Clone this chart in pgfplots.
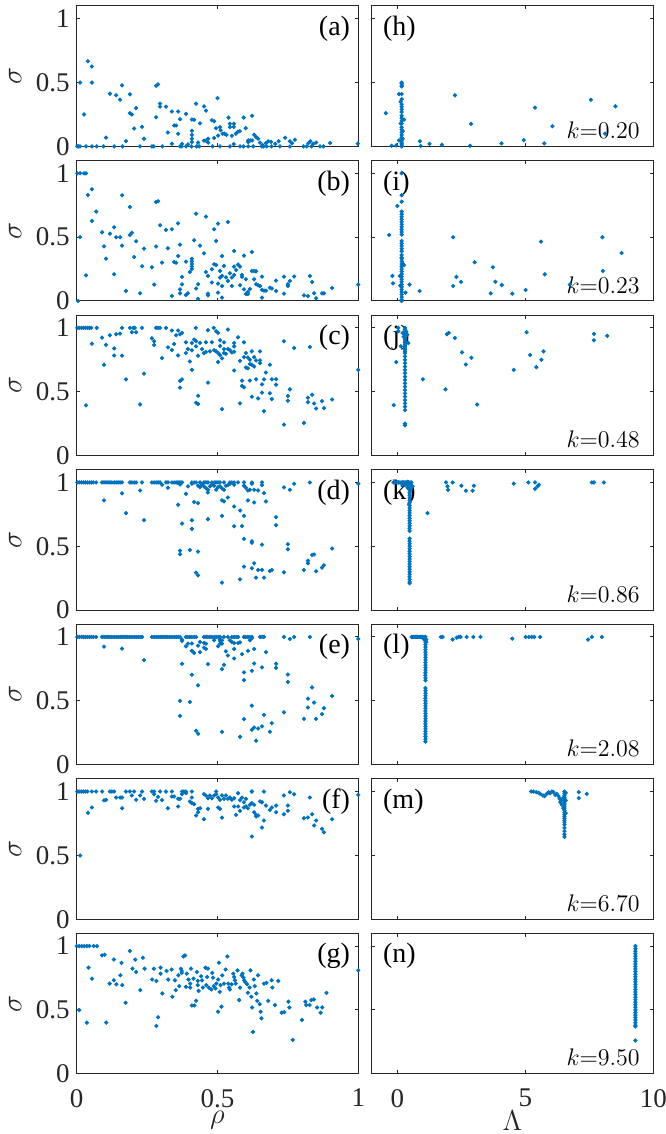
\documentclass[border=0pt]{standalone}
\usepackage[no-math]{fontspec}
\setmainfont{Liberation Serif}
\usepackage{pgfplots}
\pgfplotsset{compat=1.18}

\definecolor{mblue}{RGB}{0,114,189}
\definecolor{axgray}{RGB}{38,38,38}

\tikzset{plab/.style={font=\fontsize{14}{16}\selectfont, text=black}}
\pgfplotsset{
  dots/.style={only marks, mark=*, mark size=0.85pt, color=mblue,
    mark options={solid, fill=mblue, draw=none}},
  base/.style={
    scale only axis, width=140.8pt, height=70.2pt,
    ymin=0, ymax=1.1, ytick={0,0.5,1},
    tick align=inside, major tick length=1.7pt,
    axis line style={axgray, line width=0.5pt},
    every tick/.append style={axgray, line width=0.5pt},
    tick label style={font=\fontsize{13.5}{15}\selectfont, text=axgray},
    /pgf/number format/assume math mode=true,
  },
  lcol/.style={base, xmin=0, xmax=1, xtick={0,0.5,1}, xticklabels={},
    ylabel={$\sigma$},
    ylabel style={at={([xshift=-30.8pt]axis description cs:0,0.5)}, anchor=center,
      font=\fontsize{14}{16}\selectfont, text=axgray}},
  rcol/.style={base, xmin=-1, xmax=10, xtick={0,5,10}, xticklabels={}, yticklabels={}},
  bot/.style={xticklabel style={inner sep=0pt, yshift=-7.5pt},
    xlabel style={at={(axis description cs:0.5,0)}, anchor=north, inner sep=0pt,
      yshift=-18.5pt, font=\fontsize{14}{16}\selectfont, text=axgray}},
}
\newcommand{\leftlab}[1]{\node[plab, anchor=east] at ([xshift=-0.6pt]rel axis cs:1,0.837) {(#1)};}
\newcommand{\rightlab}[1]{\node[plab, anchor=west] at ([xshift=2.2pt]rel axis cs:0,0.837) {(#1)};}
\newcommand{\klab}[1]{\node[font=\fontsize{12.5}{14}\selectfont, anchor=base east, inner sep=0pt] at ([xshift=-6.6pt, yshift=3.9pt]rel axis cs:1,0) {$k{=}#1$};}

\begin{document}
\begin{tikzpicture}
\path[use as bounding box] (0,0) rectangle (332.5pt,-567pt);

% ---------- row 1 ----------
\begin{axis}[lcol, at={(38.35pt,-3pt)}, anchor=north west]
\addplot[dots] coordinates {
(0.002,0)(0.007,0)(0.012,0)(0.033,0)(0.054,0)(0.071,0)(0.095,0)(0.133,0)(0.163,0)(0.225,0)
(0.267,0)(0.274,0)(0.304,0)(0.367,0)(0.373,0)(0.388,0)(0.408,0)(0.426,0)(0.435,0)(0.482,0)
(0.509,0)(0.544,0)(0.580,0)(0.592,0)(0.609,0)(0.627,0)(0.657,0)(0.663,0)(0.675,0)(0.692,0)
(0.722,0)(0.757,0)(0.805,0)(0.817,0)(0.834,0)(0.864,0)(0.876,0)
(0.012,0.50)(0.026,0.25)(0.040,0.667)(0.054,0.626)(0.054,0.50)(0.104,0.068)(0.118,0.413)
(0.140,0.400)(0.154,0.366)(0.161,0.478)(0.175,0.042)(0.189,0.408)(0.189,0.260)(0.196,0.250)
(0.204,0.140)(0.211,0.300)(0.232,0.153)(0.239,0.060)(0.282,0.229)(0.282,0.475)(0.289,0.486)
(0.296,0.335)(0.296,0.312)(0.317,0.312)(0.324,0.109)(0.338,0.273)(0.338,0.020)(0.346,0.164)
(0.353,0.164)(0.360,0.273)(0.360,0.099)(0.367,0.213)(0.374,0.020)(0.388,0.255)(0.395,0.016)
(0.409,0.210)(0.417,0.208)(0.409,0.122)(0.409,0.090)(0.409,0.060)(0.409,0.034)(0.424,0.335)
(0.431,0.030)(0.438,0.180)(0.452,0.314)(0.459,0.280)(0.452,0.045)(0.459,0.045)(0.467,0.060)
(0.467,0.030)(0.480,0.205)(0.488,0.197)(0.495,0.143)(0.500,0.379)(0.488,0.065)(0.502,0.085)
(0.509,0.151)(0.511,0.127)(0.518,0.099)(0.525,0.099)(0.532,0.091)(0.539,0.226)(0.544,0.177)
(0.544,0.151)(0.551,0.083)(0.558,0.177)(0.558,0.153)(0.558,0.018)(0.565,0.099)(0.572,0.114)
(0.579,0.120)(0.593,0.226)(0.600,0.143)(0.609,0.047)(0.609,0.034)(0.616,0.047)(0.623,0.240)
(0.623,0.047)(0.630,0.091)(0.637,0.073)(0.644,0.060)(0.651,0.030)(0.660,0.010)(0.672,0.025)
(0.680,0.040)(0.690,0.035)(0.705,0.020)(0.717,0.040)(0.740,0.068)(0.757,0.040)(0.765,0.025)
(0.775,0.052)(0.823,0.025)(0.830,0.040)(0.840,0.020)(0.850,0.030)(0.900,0.026)(0.998,0.021)
};
\leftlab{a}
\end{axis}

\begin{axis}[rcol, at={(185.85pt,-3pt)}, anchor=north west]
\addplot[dots] coordinates {
(0.17,0.50)(0.17,0.49)(0.17,0.48)(0.17,0.47)(0.17,0.41)(0.17,0.37)(0.17,0.33)(0.17,0.31)
(0.17,0.29)(0.17,0.27)(0.17,0.24)(0.17,0.22)(0.17,0.20)(0.17,0.18)(0.17,0.15)(0.17,0.13)
(0.17,0.11)(0.17,0.09)(0.17,0.07)(0.17,0.05)(0.17,0.035)(0.17,0.02)(0.17,0.01)(0.17,0.0)
(0.13,0.35)(0.13,0.18)(0.21,0.12)(0.21,0.06)(0.26,0.21)(0.065,0.41)(0.07,0.047)(-0.04,0.008)
(-0.22,0.005)(-0.45,0.26)(0.88,0.04)(0.91,0.003)(1.26,0.02)(1.74,0.013)(2.25,0.40)(2.84,0.005)
(2.88,0.177)(4.07,0.023)(4.94,0.049)(5.38,0.304)(5.74,0.023)(6.06,0.158)(7.56,0.366)(8.11,0.10)
(8.52,0.314)
};
\rightlab{h}
\klab{0.20}
\end{axis}

% ---------- row 2 ----------
\begin{axis}[lcol, at={(38.35pt,-80.275pt)}, anchor=north west]
\addplot[dots] coordinates {
(0.002,1)(0.012,1)(0.026,1)(0.033,1)(0.012,0.50)(0.005,0.0)(0.033,0.20)(0.040,0.83)(0.054,0.875)
(0.054,0.627)(0.069,0.70)(0.090,0.538)(0.097,0.428)(0.104,0.332)(0.118,0.527)(0.133,0.577)
(0.133,0.209)(0.140,0.499)(0.154,0.499)(0.161,0.828)(0.161,0.433)(0.175,0.078)(0.189,0.736)
(0.189,0.517)(0.196,0.535)(0.204,0.345)(0.211,0.467)(0.225,0.060)(0.232,0.272)(0.239,0.410)
(0.267,0.264)(0.275,0.128)(0.282,0.775)(0.289,0.781)(0.282,0.426)(0.296,0.593)(0.303,0.300)
(0.317,0.556)(0.324,0.413)(0.338,0.561)(0.338,0.039)(0.346,0.305)(0.353,0.300)(0.360,0.608)
(0.360,0.352)(0.367,0.441)(0.367,0.060)(0.367,0.091)(0.374,0.188)(0.374,0.130)(0.388,0.308)
(0.388,0.047)(0.395,0.060)(0.402,0.227)(0.409,0.33)(0.409,0.31)(0.409,0.29)(0.409,0.27)
(0.409,0.25)(0.417,0.475)(0.424,0.684)(0.424,0.097)(0.431,0.131)(0.431,0.016)(0.438,0.433)
(0.452,0.373)(0.459,0.661)(0.459,0.227)(0.466,0.196)(0.466,0.057)(0.466,0.044)(0.480,0.144)
(0.480,0.248)(0.488,0.561)(0.488,0.287)(0.495,0.470)(0.495,0.282)(0.502,0.606)(0.502,0.136)
(0.502,0.065)(0.509,0.183)(0.509,0.235)(0.516,0.352)(0.516,0.196)(0.516,0.117)(0.516,0.026)
(0.523,0.274)(0.530,0.185)(0.537,0.157)(0.537,0.619)(0.544,0.217)(0.551,0.117)(0.551,0.183)
(0.559,0.392)(0.559,0.269)(0.559,0.204)(0.566,0.243)(0.573,0.285)(0.580,0.269)(0.580,0.123)
(0.587,0.204)(0.587,0.188)(0.594,0.355)(0.594,0.091)(0.601,0.170)(0.601,0.055)(0.608,0.070)
(0.608,0.055)(0.615,0.094)(0.622,0.384)(0.622,0.235)(0.630,0.235)(0.630,0.170)(0.637,0.232)
(0.637,0.131)(0.644,0.123)(0.651,0.117)(0.658,0.191)(0.658,0.086)(0.658,0.026)(0.665,0.081)
(0.672,0.081)(0.686,0.104)(0.693,0.097)(0.708,0.159)(0.708,0.078)(0.736,0.191)(0.736,0.057)
(0.750,0.117)(0.750,0.130)(0.757,0.157)(0.772,0.191)(0.807,0.044)(0.821,0.039)(0.828,0.196)
(0.836,0.149)(0.843,0.060)(0.850,0.021)(0.871,0.060)(0.878,0.060)(0.907,0.102)(1.000,0.128)
};
\leftlab{b}
\end{axis}

\begin{axis}[rcol, at={(185.85pt,-80.275pt)}, anchor=north west]
\addplot[dots] coordinates {
(0.17,1.0)(0.17,0.828)(0.17,0.778)(0.17,0.70)(0.17,0.68)(0.17,0.66)(0.17,0.64)(0.17,0.62)
(0.17,0.60)(0.17,0.58)(0.17,0.56)(0.17,0.54)(0.17,0.52)(0.17,0.47)(0.17,0.45)(0.17,0.43)
(0.17,0.41)(0.17,0.39)(0.17,0.36)(0.17,0.34)(0.17,0.33)(0.17,0.31)(0.17,0.29)(0.17,0.27)
(0.17,0.25)(0.17,0.23)(0.17,0.21)(0.17,0.19)(0.17,0.17)(0.17,0.15)(0.17,0.13)(0.17,0.11)
(0.17,0.09)(0.17,0.07)(0.17,0.05)(0.17,0.03)(0.17,0.01)(0.17,0.0)
(0.0,0.744)(-0.32,0.517)(-0.19,0.196)(-0.17,0.138)(0.10,0.196)(0.12,0.12)(0.22,0.29)(0.26,0.28)
(0.32,0.065)(0.48,0.128)(0.87,0.078)(2.18,0.499)(2.18,0.117)(2.31,0.188)(2.49,0.149)(3.02,0.303)
(3.65,0.060)(3.73,0.264)(3.83,0.151)(4.08,0.125)(4.49,0.057)(5.01,0.086)(5.61,0.465)(5.76,0.209)
(6.74,0.128)(8.01,0.499)(8.03,0.235)(8.76,0.376)
};
\rightlab{i}
\klab{0.23}
\end{axis}

% ---------- row 3 ----------
\begin{axis}[lcol, at={(38.35pt,-157.55pt)}, anchor=north west]
\addplot[dots] coordinates {
(0.002,1)(0.009,1)(0.017,1)(0.024,1)(0.031,1)(0.038,1)(0.045,1)(0.052,1)(0.071,1)(0.161,1)
(0.189,1)(0.201,1)(0.206,1)(0.232,1)(0.282,1)(0.289,1)(0.296,1)(0.317,1)(0.423,1)(0.487,1)
(0.033,0.392)(0.054,0.876)(0.090,0.924)(0.097,0.711)(0.104,0.866)(0.118,0.942)(0.133,0.839)
(0.133,0.784)(0.140,0.950)(0.154,0.955)(0.161,0.782)(0.175,0.597)(0.196,0.966)(0.211,0.966)
(0.225,0.400)(0.239,0.642)(0.267,0.918)(0.275,0.895)(0.275,0.866)(0.303,0.763)(0.324,0.847)
(0.338,0.979)(0.338,0.826)(0.346,0.874)(0.353,0.942)(0.360,0.784)(0.360,0.979)(0.367,0.950)
(0.367,0.584)(0.374,0.597)(0.367,0.532)(0.374,0.961)(0.388,0.887)(0.388,0.803)(0.395,0.834)
(0.402,0.737)(0.409,0.882)(0.409,0.671)(0.409,0.824)(0.417,0.908)(0.424,0.895)(0.424,0.855)
(0.424,0.413)(0.431,0.403)(0.431,0.468)(0.431,0.782)(0.438,0.882)(0.445,0.834)(0.452,0.803)
(0.459,0.887)(0.459,0.811)(0.466,0.571)(0.466,0.982)(0.473,0.816)(0.480,0.887)(0.488,0.824)
(0.495,0.974)(0.495,0.816)(0.502,0.961)(0.502,0.803)(0.502,0.732)(0.509,0.903)(0.509,0.858)
(0.509,0.787)(0.516,0.761)(0.516,0.363)(0.523,0.887)(0.523,0.834)(0.523,0.803)(0.530,0.797)
(0.537,0.987)(0.537,0.834)(0.544,0.824)(0.551,0.808)(0.559,0.882)(0.559,0.855)(0.559,0.813)
(0.559,0.666)(0.573,0.926)(0.580,0.408)(0.580,0.742)(0.587,0.545)(0.587,0.587)(0.594,0.887)
(0.594,0.771)(0.594,0.534)(0.601,0.803)(0.601,0.689)(0.608,0.684)(0.608,0.768)(0.615,0.750)
(0.615,0.716)(0.615,0.587)(0.622,0.816)(0.622,0.461)(0.622,0.711)(0.630,0.771)(0.630,0.697)
(0.637,0.597)(0.637,0.745)(0.644,0.447)(0.651,0.724)(0.651,0.816)(0.651,0.745)(0.658,0.492)
(0.658,0.558)(0.665,0.347)(0.665,0.597)(0.672,0.650)(0.686,0.711)(0.686,0.487)(0.693,0.597)
(0.693,0.442)(0.708,0.597)(0.708,0.555)(0.736,0.895)(0.736,0.242)(0.750,0.466)(0.750,0.429)
(0.757,0.518)(0.772,0.842)(0.807,0.255)(0.821,0.453)(0.821,0.418)(0.828,0.850)(0.836,0.476)
(0.843,0.408)(0.850,0.368)(0.871,0.426)(0.878,0.371)(0.907,0.439)(1.000,0.671)
};
\leftlab{c}
\end{axis}

\begin{axis}[rcol, at={(185.85pt,-157.55pt)}, anchor=north west]
\addplot[dots] coordinates {
(0.30,1.0)(0.30,0.987)(0.30,0.974)(0.30,0.961)(0.30,0.947)(0.30,0.934)(0.30,0.921)(0.30,0.908)
(0.30,0.895)(0.30,0.882)(0.30,0.868)(0.30,0.855)(0.30,0.842)(0.30,0.829)(0.30,0.816)(0.30,0.803)
(0.30,0.776)(0.30,0.75)(0.30,0.724)(0.30,0.697)(0.30,0.671)(0.30,0.645)(0.30,0.618)(0.30,0.592)
(0.30,0.566)(0.30,0.539)(0.30,0.513)(0.30,0.487)(0.30,0.461)(0.30,0.434)(0.30,0.408)(0.30,0.382)
(0.30,0.355)(0.30,0.25)(0.30,0.237)
(0.21,0.96)(0.39,0.947)(0.43,0.882)(0.14,0.855)(0.04,1.0)(0.04,0.974)(0.35,0.97)(0.25,0.93)
(-0.04,0.732)(-0.14,0.395)(1.0,0.597)(1.88,0.518)(1.94,0.950)(2.01,0.961)(2.25,0.921)(2.53,0.808)
(2.68,0.713)(2.89,0.766)(3.12,0.400)(4.55,0.671)(5.05,0.966)(5.19,0.787)(5.43,0.692)(5.63,0.750)
(5.71,0.816)(7.68,0.953)(7.68,0.903)(8.20,0.937)
};
\rightlab{j}
\klab{0.48}
\end{axis}

% ---------- row 4 ----------
\begin{axis}[lcol, at={(38.35pt,-234.825pt)}, anchor=north west]
\addplot[dots] coordinates {
(0.002,1)(0.009,1)(0.017,1)(0.024,1)(0.031,1)(0.038,1)(0.045,1)(0.052,1)(0.059,1)(0.069,1)
(0.090,1)(0.097,1)(0.104,1)(0.111,1)(0.118,1)(0.125,1)(0.133,1)(0.140,1)(0.147,1)(0.154,1)
(0.161,1)(0.189,1)(0.196,1)(0.204,1)(0.211,1)(0.232,1)(0.267,1)(0.275,1)(0.282,1)(0.289,1)
(0.296,1)(0.317,1)(0.324,1)(0.338,1)(0.346,1)(0.353,1)(0.360,1)(0.367,1)(0.374,1)(0.409,1)
(0.417,1)(0.424,1)(0.438,1)(0.452,1)(0.459,1)(0.466,1)(0.480,1)(0.488,1)(0.495,1)(0.502,1)
(0.509,1)(0.523,1)(0.544,1)(0.551,1)(0.559,1)(0.573,1)(0.594,1)(0.622,1)(0.658,1)(0.828,1)
(1.000,0.99)
(0.303,0.982)(0.324,0.958)(0.360,0.995)(0.367,0.984)(0.395,0.969)(0.409,0.990)(0.431,0.974)
(0.438,0.963)(0.445,0.982)(0.452,0.969)(0.459,0.956)(0.466,0.942)(0.466,0.921)(0.473,0.969)
(0.480,0.984)(0.488,0.974)(0.495,0.942)(0.502,0.963)(0.509,0.969)(0.516,0.953)(0.523,0.942)
(0.530,0.974)(0.537,0.979)(0.544,0.990)(0.559,0.982)(0.594,0.974)(0.601,0.958)(0.608,0.937)
(0.615,0.942)(0.622,0.990)(0.630,0.942)(0.644,0.937)(0.658,0.979)(0.665,0.916)(0.736,0.961)
(0.757,0.942)(0.772,0.990)
(0.097,0.859)(0.161,0.914)(0.175,0.759)(0.225,0.937)(0.239,0.704)(0.360,0.825)(0.374,0.678)
(0.388,0.911)(0.409,0.704)(0.409,0.636)(0.417,0.846)(0.431,0.838)(0.367,0.466)(0.367,0.437)
(0.402,0.471)(0.424,0.293)(0.431,0.458)(0.431,0.272)(0.466,0.712)(0.516,0.859)(0.523,0.851)
(0.516,0.738)(0.516,0.215)(0.537,0.882)(0.559,0.812)(0.559,0.657)(0.580,0.780)(0.580,0.241)
(0.587,0.657)(0.594,0.738)(0.594,0.558)(0.594,0.340)(0.608,0.859)(0.622,0.539)(0.622,0.527)
(0.622,0.327)(0.630,0.843)(0.630,0.366)(0.637,0.254)(0.644,0.314)(0.658,0.513)(0.658,0.314)
(0.665,0.254)(0.672,0.851)(0.686,0.306)(0.693,0.314)(0.708,0.728)(0.708,0.665)(0.736,0.296)
(0.750,0.516)(0.750,0.476)(0.807,0.314)(0.821,0.387)(0.821,0.366)(0.836,0.432)(0.843,0.435)
(0.850,0.304)(0.871,0.332)(0.878,0.351)(0.907,0.482)
};
\leftlab{d}
\end{axis}

\begin{axis}[rcol, at={(185.85pt,-234.825pt)}, anchor=north west]
\addplot[dots] coordinates {
(-0.15,1)(-0.10,1)(-0.05,1)(0.0,1)(0.05,1)(0.10,1)(0.15,1)(0.20,1)(0.25,1)(0.30,1)(0.35,1)
(0.40,1)(0.45,1)(0.50,1)(0.55,1)(0.20,0.98)(0.30,0.98)(0.42,0.98)(0.52,0.98)(0.40,0.96)
(0.55,0.96)(0.60,0.97)(0.36,0.99)(0.44,0.95)(0.52,0.94)
(0.48,0.98)(0.48,0.96)(0.48,0.94)(0.48,0.92)(0.48,0.90)(0.48,0.88)(0.48,0.86)(0.48,0.84)
(0.48,0.82)(0.48,0.80)(0.48,0.78)(0.48,0.76)(0.48,0.74)(0.48,0.72)(0.48,0.70)(0.48,0.68)
(0.48,0.66)(0.48,0.64)(0.48,0.62)(0.48,0.56)(0.48,0.54)(0.48,0.52)(0.48,0.50)(0.48,0.48)
(0.48,0.46)(0.48,0.44)(0.48,0.42)(0.48,0.40)(0.48,0.38)(0.48,0.36)(0.48,0.34)(0.48,0.32)
(0.48,0.30)(0.48,0.28)(0.48,0.26)(0.48,0.24)(0.48,0.22)(0.48,0.21)
(1.18,0.759)(1.90,1.0)(1.96,0.969)(1.98,0.942)(2.16,1.0)(2.50,0.974)(2.68,0.935)(2.94,0.935)
(2.99,0.974)(4.55,0.990)(5.12,1.0)(5.38,1.0)(5.38,0.950)(5.53,0.982)(5.48,0.969)(7.60,1.0)
(7.68,1.0)(8.07,1.0)
};
\rightlab{k}
\klab{0.86}
\end{axis}

% ---------- row 5 ----------
\begin{axis}[lcol, at={(38.35pt,-312.1pt)}, anchor=north west]
\addplot[dots] coordinates {
(0.002,1)(0.009,1)(0.017,1)(0.024,1)(0.031,1)(0.038,1)(0.045,1)(0.052,1)(0.059,1)(0.069,1)
(0.090,1)(0.097,1)(0.104,1)(0.111,1)(0.118,1)(0.125,1)(0.133,1)(0.140,1)(0.147,1)(0.154,1)
(0.161,1)(0.168,1)(0.175,1)(0.182,1)(0.189,1)(0.196,1)(0.204,1)(0.211,1)(0.218,1)(0.225,1)
(0.232,1)(0.267,1)(0.275,1)(0.282,1)(0.289,1)(0.296,1)(0.303,1)(0.310,1)(0.317,1)(0.324,1)
(0.331,1)(0.338,1)(0.346,1)(0.353,1)(0.360,1)(0.367,1)(0.388,1)(0.395,1)(0.402,1)(0.409,1)
(0.417,1)(0.424,1)(0.452,1)(0.459,1)(0.466,1)(0.473,1)(0.480,1)(0.488,1)(0.495,1)(0.502,1)
(0.509,1)(0.523,1)(0.537,1)(0.551,1)(0.559,1)(0.566,1)(0.573,1)(0.594,1)(0.601,1)(0.608,1)
(0.615,1)(0.622,1)(0.651,1)(0.658,1)(0.665,1)(0.736,1)(0.772,1)(0.828,1)(1.000,0.985)
(0.374,0.979)(0.374,0.969)(0.395,0.948)(0.409,0.948)(0.438,0.961)(0.452,0.953)(0.459,0.948)
(0.488,0.974)(0.509,0.969)(0.509,0.948)(0.516,0.974)(0.516,0.948)(0.544,0.974)(0.551,0.961)
(0.559,0.953)(0.580,0.958)(0.615,0.974)(0.622,0.990)(0.757,0.984)
(0.097,0.925)(0.161,0.909)(0.239,0.818)(0.374,0.790)(0.367,0.499)(0.367,0.382)(0.388,0.927)
(0.402,0.491)(0.409,0.891)(0.409,0.704)(0.417,0.875)(0.424,0.265)(0.431,0.242)(0.431,0.932)
(0.431,0.621)(0.438,0.881)(0.452,0.917)(0.459,0.906)(0.466,0.787)(0.502,0.927)(0.509,0.979)
(0.516,0.748)(0.516,0.257)(0.523,0.782)(0.530,0.888)(0.537,0.855)(0.559,0.906)(0.559,0.831)
(0.573,0.953)(0.580,0.218)(0.587,0.865)(0.594,0.722)(0.594,0.662)(0.594,0.356)(0.608,0.891)
(0.622,0.735)(0.622,0.462)(0.622,0.273)(0.630,0.906)(0.630,0.792)(0.630,0.291)(0.637,0.187)
(0.644,0.283)(0.658,0.761)(0.658,0.299)(0.665,0.390)(0.672,0.881)(0.686,0.257)(0.693,0.325)
(0.708,0.790)(0.708,0.758)(0.736,0.410)(0.750,0.706)(0.750,0.647)(0.807,0.358)(0.821,0.517)
(0.821,0.447)(0.836,0.605)(0.843,0.486)(0.850,0.358)(0.871,0.395)(0.878,0.442)(0.907,0.538)
};
\leftlab{e}
\end{axis}

\begin{axis}[rcol, at={(185.85pt,-312.1pt)}, anchor=north west]
\addplot[dots] coordinates {
(0.56,1)(0.60,1)(0.65,1)(0.70,1)(0.75,1)(0.80,1)(0.85,1)(0.90,1)(0.95,1)(1.00,1)(1.05,1)
(1.13,0.98)(1.05,0.98)(1.13,0.96)
(1.10,1.0)(1.10,0.98)(1.10,0.96)(1.10,0.94)(1.10,0.92)(1.10,0.90)(1.10,0.88)(1.10,0.86)
(1.10,0.84)(1.10,0.82)(1.10,0.80)(1.10,0.78)(1.10,0.76)(1.10,0.74)(1.10,0.72)(1.10,0.70)
(1.10,0.68)(1.10,0.66)(1.10,0.60)(1.10,0.58)(1.10,0.56)(1.10,0.54)(1.10,0.52)(1.10,0.50)
(1.10,0.48)(1.10,0.46)(1.10,0.44)(1.10,0.42)(1.10,0.40)(1.10,0.38)(1.10,0.36)(1.10,0.34)
(1.10,0.32)(1.10,0.30)(1.10,0.28)(1.10,0.26)(1.10,0.24)(1.10,0.22)(1.10,0.20)(1.10,0.18)
(1.70,1)(1.77,1)(2.16,0.98)(2.32,0.995)(2.40,1)(2.47,1)(2.71,1)(2.97,1)(3.25,1)(4.49,0.987)
(5.01,1)(5.14,1)(5.25,1)(5.35,1)(5.58,1)(7.45,0.98)(7.60,1)(7.99,1)
};
\rightlab{l}
\klab{2.08}
\end{axis}

% ---------- row 6 ----------
\begin{axis}[lcol, at={(38.35pt,-389.375pt)}, anchor=north west]
\addplot[dots] coordinates {
(0.002,1)(0.009,1)(0.017,1)(0.024,1)(0.031,1)(0.038,1)(0.054,1)(0.069,1)(0.090,1)(0.118,1)
(0.125,1)(0.133,1)(0.175,1)(0.189,1)(0.204,1)(0.232,1)(0.267,1)(0.275,1)(0.296,1)(0.317,1)
(0.338,1)(0.374,1)(0.381,1)(0.388,1)(0.409,1)(0.495,1)(0.622,1)(0.665,1)
(0.012,0.499)(0.040,0.833)(0.054,0.875)(0.097,0.93)(0.104,0.935)(0.140,0.953)(0.154,0.953)
(0.161,0.953)(0.161,0.869)(0.196,0.969)(0.211,0.935)(0.225,0.969)(0.239,0.943)(0.275,0.979)
(0.282,0.927)(0.289,0.958)(0.303,0.932)(0.324,0.869)(0.338,0.961)(0.346,0.961)(0.360,0.883)
(0.360,0.943)(0.367,0.943)(0.374,0.979)(0.388,0.987)(0.402,0.922)(0.409,0.953)(0.409,0.909)
(0.417,0.901)(0.424,0.812)(0.431,0.864)(0.438,0.869)(0.431,0.838)(0.452,0.979)(0.452,0.783)
(0.459,0.969)(0.466,0.864)(0.466,0.948)(0.473,0.969)(0.480,0.948)(0.488,0.969)(0.495,0.979)
(0.502,0.953)(0.502,0.875)(0.509,0.935)(0.509,0.864)(0.516,0.969)(0.516,0.796)(0.523,0.943)
(0.530,0.969)(0.537,0.943)(0.544,0.953)(0.551,0.935)(0.559,0.883)(0.559,0.948)(0.566,0.817)
(0.573,0.987)(0.573,0.883)(0.580,0.932)(0.580,0.849)(0.587,0.953)(0.594,0.916)(0.594,0.875)
(0.601,0.943)(0.601,0.883)(0.608,0.869)(0.615,0.896)(0.622,1.0)(0.622,0.648)(0.622,0.909)
(0.630,0.896)(0.630,0.838)(0.637,0.817)(0.637,0.804)(0.644,0.812)(0.651,0.922)(0.658,0.718)
(0.658,0.916)(0.665,0.773)(0.672,0.890)(0.686,0.856)(0.693,0.875)(0.708,0.838)(0.708,0.890)
(0.736,0.969)(0.736,0.822)(0.750,0.849)(0.750,0.890)(0.757,0.995)(0.772,0.979)(0.807,0.791)
(0.821,0.796)(0.828,0.953)(0.836,0.822)(0.843,0.734)(0.850,0.773)(0.871,0.708)(0.878,0.681)
(0.907,0.783)(1.000,0.974)
};
\leftlab{f}
\end{axis}

\begin{axis}[rcol, at={(185.85pt,-389.375pt)}, anchor=north west]
\addplot[dots] coordinates {
(5.23,1.0)(5.32,1.0)(5.43,0.995)(5.52,0.99)(5.58,0.982)(5.69,0.969)(5.75,0.964)(5.84,0.982)
(5.91,0.995)(5.97,0.987)(6.04,1.0)(6.10,0.995)(6.17,0.974)(6.23,0.982)(6.30,0.964)(6.34,0.943)
(6.40,0.930)(6.37,0.917)(6.43,0.896)(7.09,0.995)(7.09,0.948)(7.40,0.982)
(6.53,1.0)(6.53,0.985)(6.53,0.97)(6.53,0.955)(6.53,0.94)(6.53,0.925)(6.53,0.91)(6.53,0.895)
(6.53,0.88)(6.53,0.865)(6.53,0.85)(6.53,0.835)(6.53,0.82)(6.53,0.805)(6.53,0.79)(6.53,0.775)
(6.53,0.76)(6.53,0.74)(6.53,0.715)(6.53,0.69)(6.53,0.665)(6.53,0.645)
(6.48,0.95)(6.58,0.93)(6.48,0.87)(6.58,0.83)(6.58,0.99)
};
\rightlab{m}
\klab{6.70}
\end{axis}

% ---------- row 7 ----------
\begin{axis}[lcol, bot, at={(38.35pt,-466.65pt)}, anchor=north west,
  xticklabels={0,0.5,1}, xlabel={$\rho$}]
\addplot[dots] coordinates {
(0.0,1)(0.009,1)(0.018,1)(0.027,1)(0.036,1)(0.045,1)(0.060,1)(0.072,1)
(0.009,0.499)(0.036,0.400)(0.042,0.831)(0.054,0.745)(0.090,0.927)(0.099,0.932)(0.105,0.400)
(0.117,0.706)(0.132,0.894)(0.132,0.732)(0.141,0.701)(0.155,0.771)(0.159,0.868)(0.162,0.694)
(0.174,0.556)(0.189,0.961)(0.198,0.823)(0.208,0.894)(0.211,0.797)(0.226,0.655)(0.235,0.909)
(0.241,0.823)(0.268,0.738)(0.274,0.823)(0.283,0.727)(0.283,0.374)(0.289,0.442)(0.298,0.831)
(0.298,0.784)(0.304,0.629)(0.319,0.805)(0.325,0.738)(0.337,0.816)(0.340,0.603)(0.349,0.732)
(0.352,0.655)(0.361,0.771)(0.364,0.686)(0.370,0.823)(0.373,0.805)(0.373,0.790)(0.379,0.919)
(0.385,0.927)(0.388,0.681)(0.391,0.784)(0.397,0.738)(0.403,0.675)(0.403,0.706)(0.406,0.823)
(0.409,0.535)(0.415,0.745)(0.418,0.535)(0.424,0.571)(0.427,0.797)(0.430,0.727)(0.430,0.694)
(0.433,0.649)(0.442,0.764)(0.445,0.732)(0.448,0.675)(0.457,0.831)(0.460,0.694)(0.463,0.758)
(0.466,0.823)(0.469,0.675)(0.478,0.660)(0.481,0.790)(0.484,0.753)(0.487,0.686)(0.493,0.668)
(0.496,0.706)(0.502,0.738)(0.502,0.486)(0.505,0.870)(0.508,0.642)(0.511,0.694)(0.514,0.525)
(0.517,0.771)(0.523,0.706)(0.529,0.816)(0.535,0.919)(0.538,0.706)(0.541,0.675)(0.544,0.660)
(0.550,0.701)(0.556,0.784)(0.559,0.758)(0.562,0.732)(0.565,0.706)(0.571,0.810)(0.577,0.577)
(0.580,0.675)(0.586,0.771)(0.589,0.784)(0.592,0.753)(0.595,0.732)(0.598,0.719)(0.605,0.701)
(0.608,0.634)(0.614,0.675)(0.617,0.810)(0.620,0.603)(0.623,0.519)(0.626,0.327)(0.629,0.738)
(0.632,0.686)(0.638,0.629)(0.641,0.571)(0.644,0.771)(0.650,0.545)(0.653,0.486)(0.656,0.434)
(0.665,0.706)(0.674,0.712)(0.680,0.571)(0.692,0.732)(0.695,0.675)(0.704,0.538)(0.716,0.727)
(0.728,0.478)(0.737,0.483)(0.752,0.564)(0.755,0.519)(0.767,0.265)(0.800,0.421)(0.812,0.564)
(0.815,0.538)(0.827,0.538)(0.833,0.577)(0.842,0.582)(0.854,0.519)(0.866,0.478)(0.872,0.519)
(0.887,0.634)(1.000,0.810)
};
\leftlab{g}
\end{axis}

\begin{axis}[rcol, bot, at={(185.85pt,-466.65pt)}, anchor=north west,
  xticklabels={0,5,10}, xlabel={$\Lambda$}]
\addplot[dots] coordinates {
(9.3,1.0)(9.3,0.98)(9.3,0.96)(9.3,0.94)(9.3,0.92)(9.3,0.90)(9.3,0.88)(9.3,0.86)(9.3,0.84)
(9.3,0.82)(9.3,0.80)(9.3,0.78)(9.3,0.76)(9.3,0.74)(9.3,0.72)(9.3,0.70)(9.3,0.68)(9.3,0.66)
(9.3,0.64)(9.3,0.62)(9.3,0.60)(9.3,0.58)(9.3,0.56)(9.3,0.54)(9.3,0.52)(9.3,0.50)(9.3,0.48)
(9.3,0.46)(9.3,0.44)(9.3,0.42)(9.3,0.40)(9.3,0.38)(9.3,0.37)(9.3,0.26)
};
\rightlab{n}
\klab{9.50}
\end{axis}
\end{tikzpicture}
\end{document}
